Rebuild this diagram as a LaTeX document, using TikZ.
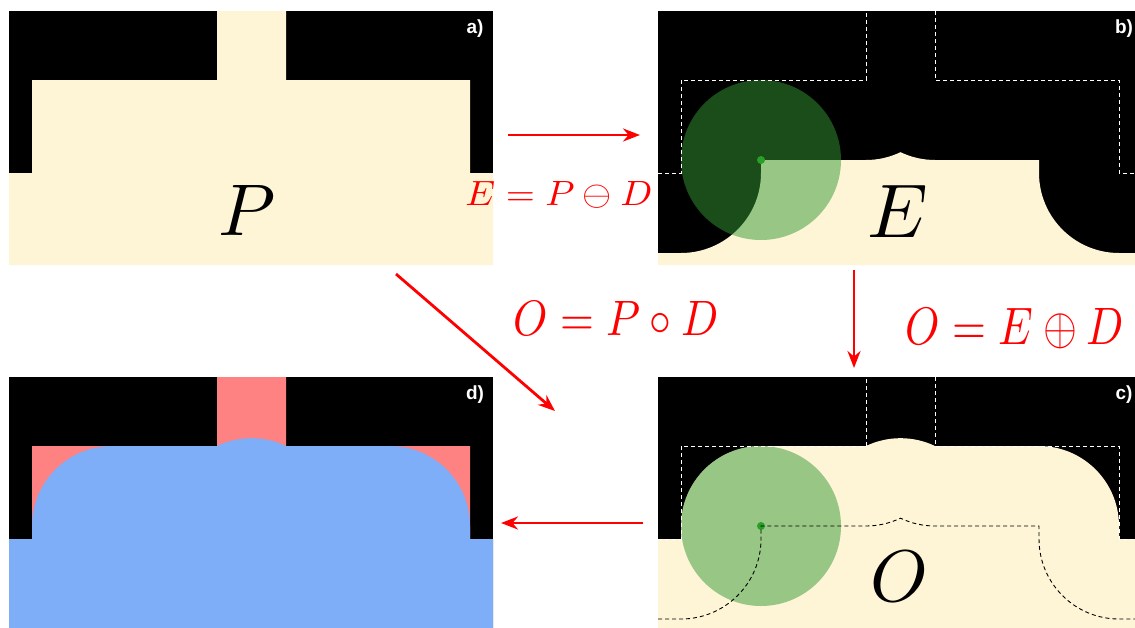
\documentclass[tikz,border=0pt]{standalone}
\usepackage{graphicx}
\usepackage{fontspec}
\newfontfamily\labfont{Liberation Sans}
\usetikzlibrary{arrows.meta}
\definecolor{cream}{RGB}{254,244,214}
\definecolor{pinkP}{RGB}{255,130,130}
\definecolor{blueO}{RGB}{127,174,248}
\definecolor{discgreen}{RGB}{52,154,52}
\definecolor{dotgreen}{RGB}{40,160,40}
\tikzset{
 flow/.style={draw=red, line width=2.8pt, -{Stealth[length=17pt,width=13pt]}},
 formula/.style={text=red, inner sep=0pt, anchor=base},
 big/.style={inner sep=0pt, anchor=base},
 panellabel/.style={text=white, font=\labfont\bfseries\fontsize{19}{22}\selectfont, inner sep=0pt},
 pline/.style={draw=white, line width=0.9pt, dash pattern=on 4pt off 3pt},
 eline/.style={draw=black, line width=0.9pt, dash pattern=on 4pt off 3pt},
 disc/.style={fill=discgreen, fill opacity=0.5},
 dot/.style={fill=dotgreen},
}
\newcommand\Ppath{(9,265) -- (9,173) -- (32,173) -- (32,80) -- (217,80) -- (217,11) -- (286,11) -- (286,80) -- (470,80) -- (470,173) -- (493,173) -- (493,265) -- cycle}
\newcommand\Pline{(9,173) -- (32,173) -- (32,80) -- (217,80) -- (217,11) (286,11) -- (286,80) -- (470,80) -- (470,173) -- (493,173)}
\newcommand\Epath{(9,265) -- (9,253) -- (32,253) arc[start angle=90,end angle=0,radius=80] -- (112,160) -- (217,160) arc[start angle=90,end angle=64.45,radius=80] arc[start angle=115.55,end angle=90,radius=80] -- (390,160) -- (390,173) arc[start angle=180,end angle=90,radius=80] -- (493,253) -- (493,265) -- cycle}
\newcommand\Eline{(9,253) -- (32,253) arc[start angle=90,end angle=0,radius=80] -- (112,160) -- (217,160) arc[start angle=90,end angle=64.45,radius=80] arc[start angle=115.55,end angle=90,radius=80] -- (390,160) -- (390,173) arc[start angle=180,end angle=90,radius=80] -- (493,253)}
\newcommand\Opath{(9,265) -- (9,173) -- (32,173) -- (32,160) arc[start angle=180,end angle=270,radius=80] -- (217,80) arc[start angle=244.45,end angle=295.55,radius=80] -- (390,80) arc[start angle=270,end angle=360,radius=80] -- (470,173) -- (493,173) -- (493,265) -- cycle}
\begin{document}
\begin{tikzpicture}[x=1pt,y=-1pt]
\useasboundingbox (0,0) rectangle (1135,627);
\clip (0,0) rectangle (1135,627);
\fill[white] (0,0) rectangle (1135,627);
% panel a
\fill[black] (9,11) rectangle (493,265);
\fill[cream] \Ppath;
\node[big] (P) at (247,235) {\resizebox{!}{50pt}{$P$}};
\node[panellabel] (la) at (475,29) {a)};
% panel b
\begin{scope}[shift={(649,0)}]
\fill[black] (9,11) rectangle (493,265);
\fill[cream] \Epath;
\fill[disc] (112,160) circle[radius=80];
\fill[dot] (112,160) circle[radius=4];
\draw[pline] \Pline;
\node[big] (E) at (249,237) {\resizebox{!}{52pt}{$E$}};
\node[panellabel] (lb) at (475,29) {b)};
\end{scope}
% panel c
\begin{scope}[shift={(649,366)}]
\fill[black] (9,11) rectangle (493,265);
\fill[cream] \Opath;
\fill[disc] (112,160) circle[radius=80];
\fill[dot] (112,160) circle[radius=4];
\draw[eline] \Eline;
\draw[pline] \Pline;
\node[big] (O) at (250,235) {\resizebox{!}{50pt}{$O$}};
\node[panellabel] (lc) at (475,29) {c)};
\end{scope}
% panel d
\begin{scope}[shift={(0,366)}]
\fill[black] (9,11) rectangle (493,265);
\fill[pinkP] \Ppath;
\fill[blueO] \Opath;
\node[panellabel] (ld) at (475,29) {d)};
\end{scope}
% arrows
\coordinate (ab1) at (508,135);
\coordinate (ab2) at (640,135);
\coordinate (bc1) at (854,270);
\coordinate (bc2) at (854,368);
\coordinate (ac1) at (396,274);
\coordinate (ac2) at (555,411);
\coordinate (cd1) at (643,523);
\coordinate (cd2) at (501,523);
\draw[flow] (ab1) -- (ab2);
\draw[flow] (bc1) -- (bc2);
\draw[flow] (ac1) -- (ac2);
\draw[flow] (cd1) -- (cd2);
\node[formula] (fE) at (559,205) {\resizebox{187pt}{24pt}{$E=P\ominus D$}};
\node[formula] (fOP) at (616,335) {\resizebox{205pt}{34pt}{$O=P\circ D$}};
\node[formula] (fOE) at (1015,344) {\resizebox{218pt}{36pt}{$O=E\oplus D$}};
\end{tikzpicture}
\end{document}
